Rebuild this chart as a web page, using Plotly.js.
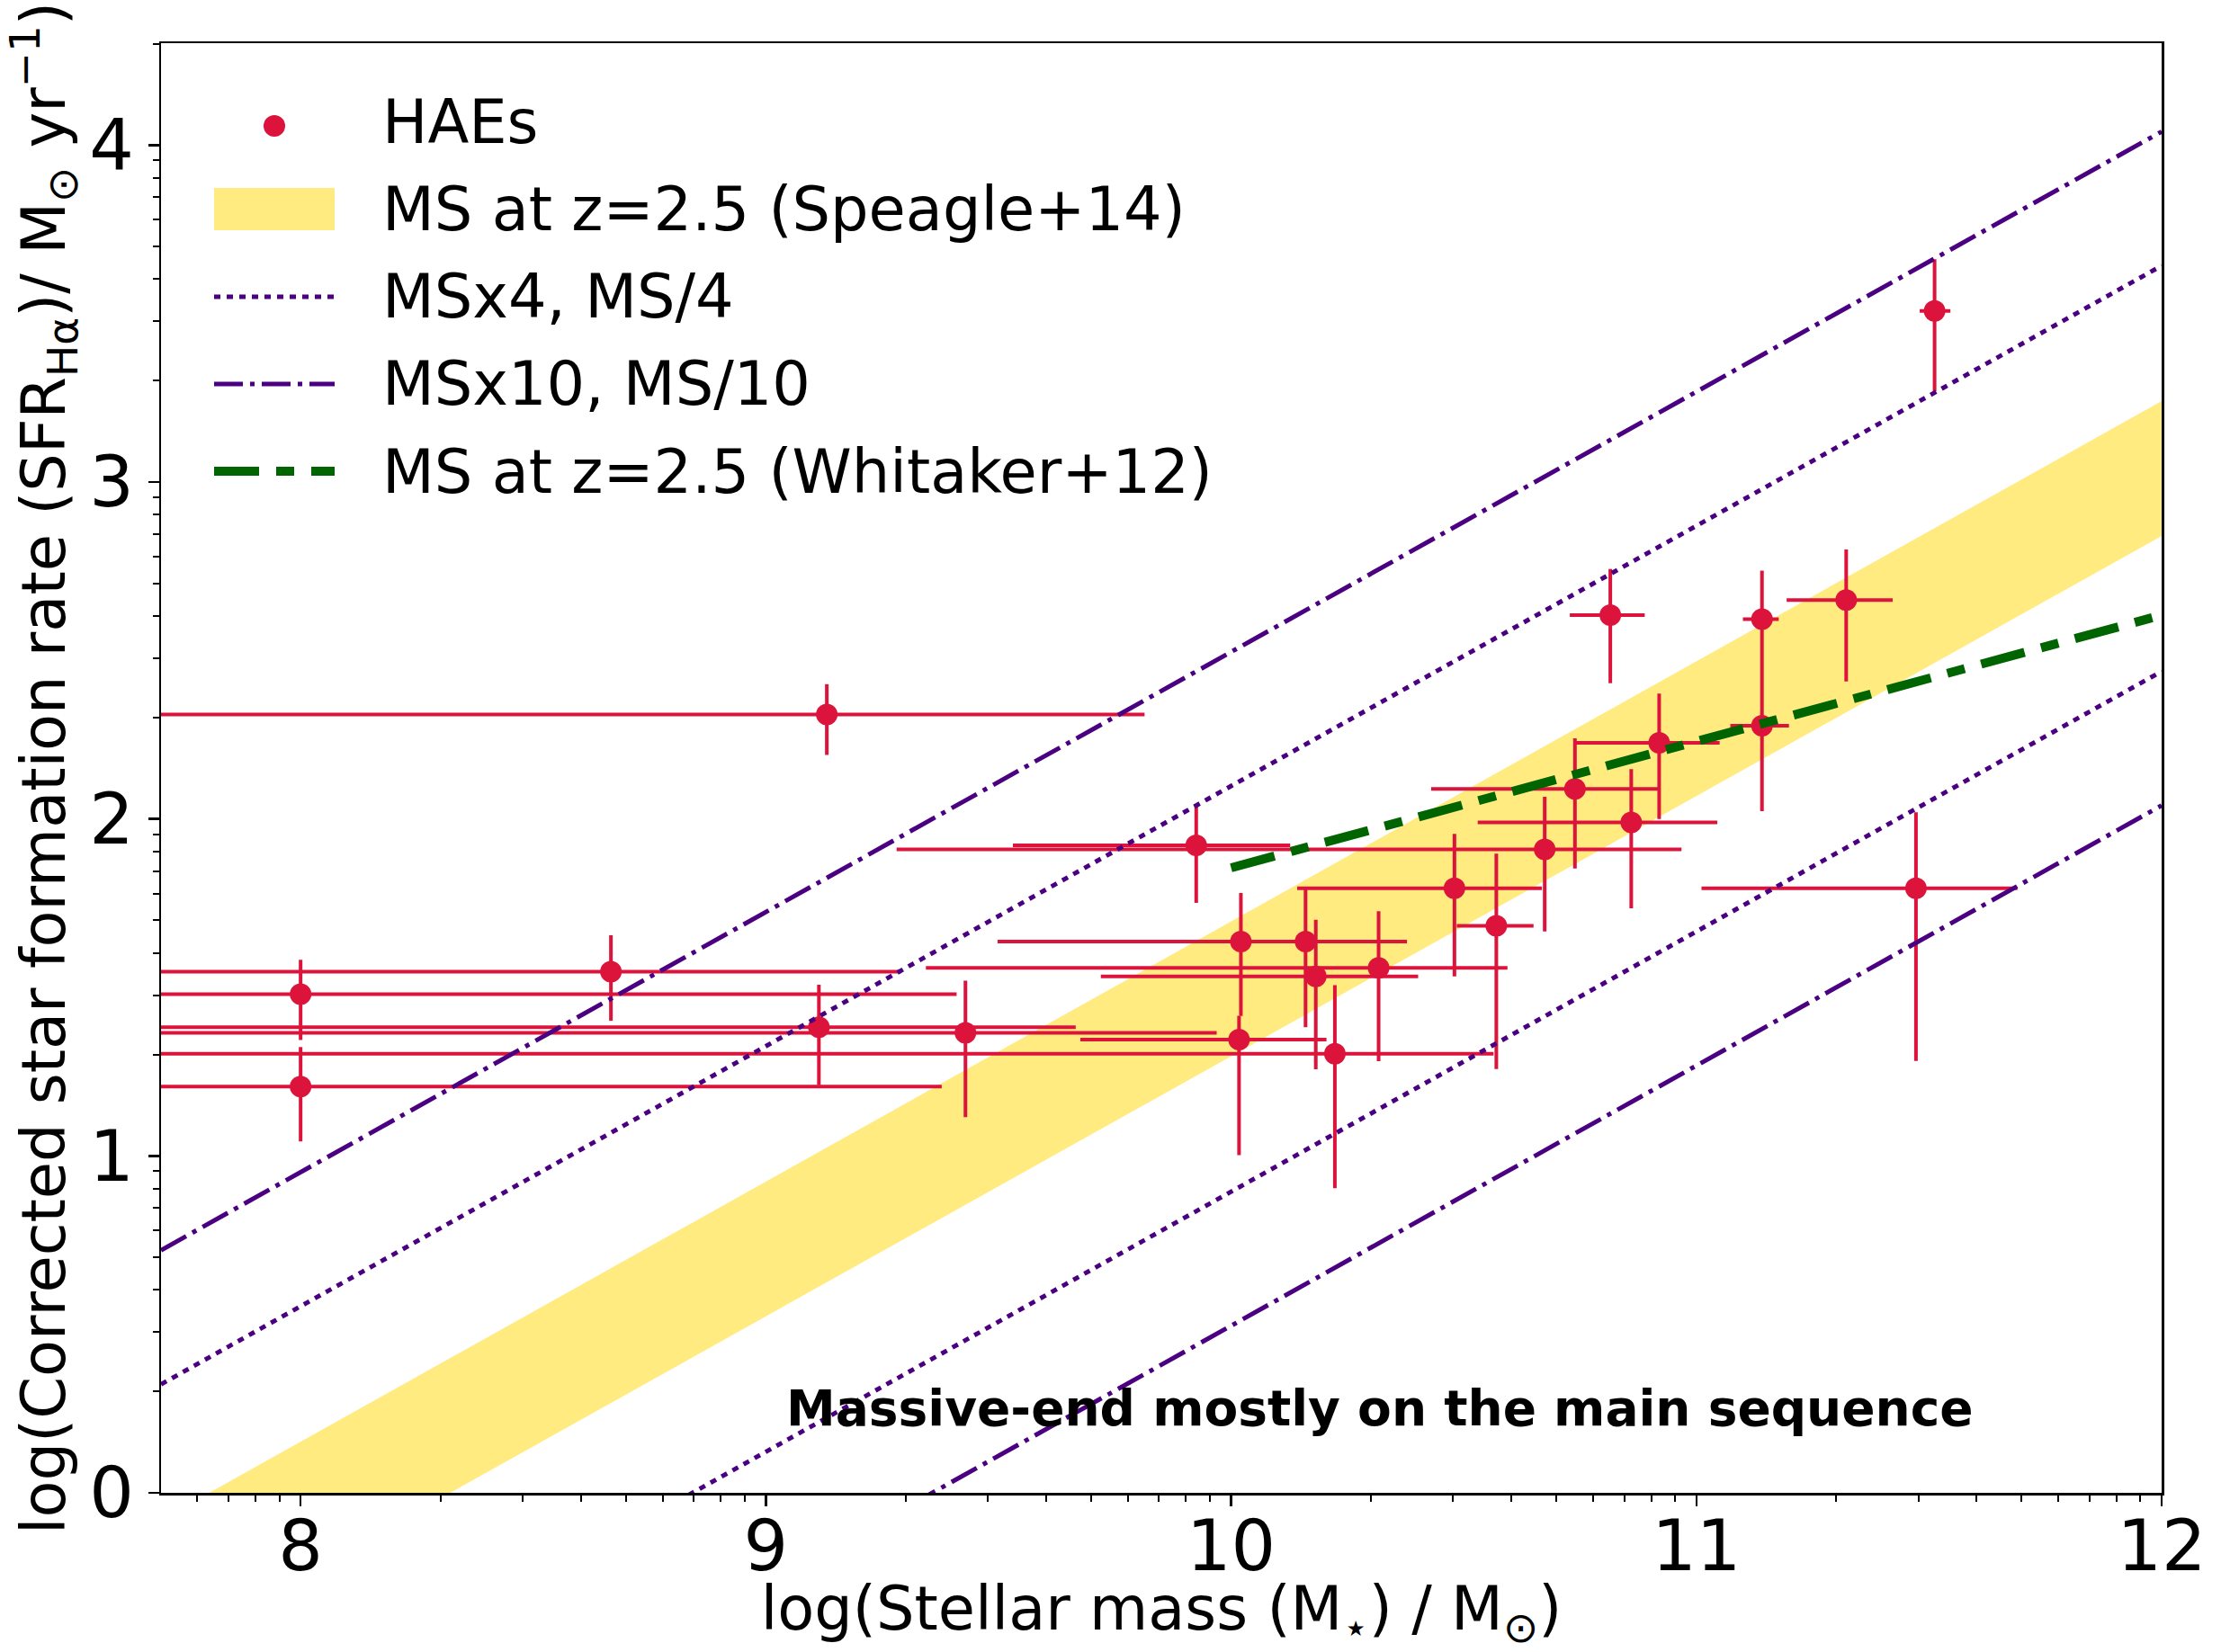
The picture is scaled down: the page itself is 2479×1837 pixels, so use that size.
<!DOCTYPE html>
<html>
<head>
<meta charset="utf-8">
<script src="https://cdn.plot.ly/plotly-3.0.1.min.js"></script>
<style>
html,body{margin:0;padding:0;background:#ffffff;}
#chart{width:2479px;height:1837px;}
</style>
</head>
<body>
<div id="chart"></div>
<script>
// ---------------- data ----------------
// HAEs: log stellar mass, log SFR(Halpha) and error-bar bounds
const haeMass   = [8.000, 8.000, 8.667, 9.131, 9.114, 9.429, 9.925, 10.021, 10.017, 10.160, 10.182, 10.223, 10.317,
                   10.480, 10.570, 10.674, 10.739, 10.860, 10.920, 10.815, 11.141, 11.141, 11.322, 11.472, 11.512];
const haeSFR    = [1.480, 1.206, 1.547, 2.310, 1.382, 1.365, 1.922, 1.636, 1.345, 1.636, 1.533, 1.303, 1.558,
                   1.794, 1.683, 1.910, 2.089, 1.990, 2.226, 2.605, 2.593, 2.277, 2.650, 1.794, 3.508];
const haeMassLo = [7.50, 7.50, 7.50, 7.50, 7.50, 7.50, 9.531, 9.498, 9.676, 9.694, 9.720, 7.50, 9.344,
                   10.142, 10.485, 9.281, 10.430, 10.530, 10.740, 10.728, 11.100, 11.073, 11.194, 11.011, 11.480];
const haeMassHi = [9.410, 9.378, 9.290, 9.814, 9.666, 9.969, 10.127, 10.253, 10.205, 10.378, 10.402, 10.564, 10.594,
                   10.668, 10.650, 10.968, 10.920, 11.045, 11.050, 10.889, 11.177, 11.199, 11.422, 11.690, 11.546];
const haeSFRLo  = [1.344, 1.043, 1.401, 2.190, 1.210, 1.115, 1.751, 1.415, 1.002, 1.382, 1.257, 0.904, 1.281,
                   1.533, 1.258, 1.666, 1.853, 1.735, 2.000, 2.403, 2.450, 2.023, 2.408, 1.282, 3.269];
const haeSFRHi  = [1.582, 1.323, 1.655, 2.400, 1.508, 1.520, 2.044, 1.780, 1.416, 1.795, 1.701, 1.507, 1.726,
                   1.956, 1.897, 2.066, 2.239, 2.148, 2.372, 2.742, 2.737, 2.450, 2.800, 2.020, 3.661];

// Main sequence (Speagle+14, z=2.5): centre line end points and band half width
const msLineX   = [7.7, 12.0];
const msLineY   = [-0.280, 3.040];
const msBandHalf = 0.2;
const offsetX4  = 0.602;   // log10(4)
const offsetX10 = 1.0;     // log10(10)

// Whitaker+12 relation at z=2.5
const whitakerX = [10.0, 12.0];
const whitakerY = [1.855, 2.605];

// ticks
const xTickVals = [8, 9, 10, 11, 12];
const xTickText = ['8', '9', '10', '11', '12'];
const yTickVals = [0, 1, 2, 3, 4];
const yTickText = ['0', '1', '2', '3', '4'];

// ---------------- styling ----------------
const FONT = 'DejaVu Sans';
const RED = '#DC143C';
const PURPLE = '#4B0082';
const GREEN = '#006400';
const GOLD = 'rgba(255,215,0,0.5)';
const X_RANGE = [7.7, 12.0];
const Y_RANGE = [0, 4.3025];

function minorVals(lo, hi) {
  const out = [];
  for (let n = Math.floor(lo) - 1; n <= Math.ceil(hi); n++) {
    for (let k = 2; k <= 9; k++) {
      const v = n + Math.log10(k);
      if (v >= lo - 1e-9 && v <= hi + 1e-9) out.push(v);
    }
  }
  return out;
}

const shift = (arr, d) => arr.map(v => v + d);

const traces = [];
// yellow band
traces.push({
  x: msLineX.concat(msLineX.slice().reverse()),
  y: shift(msLineY, msBandHalf).concat(shift(msLineY, -msBandHalf).reverse()),
  mode: 'lines', fill: 'toself', fillcolor: GOLD,
  line: {width: 0, color: GOLD}, hoverinfo: 'skip', showlegend: false
});
// HAEs with error bars
traces.push({
  x: haeMass, y: haeSFR, mode: 'markers', type: 'scatter', showlegend: false,
  marker: {color: RED, size: 24, line: {width: 0}},
  error_x: {type: 'data', symmetric: false,
            array: haeMassHi.map((v, i) => v - haeMass[i]),
            arrayminus: haeMass.map((v, i) => v - haeMassLo[i]),
            color: RED, thickness: 4, width: 0},
  error_y: {type: 'data', symmetric: false,
            array: haeSFRHi.map((v, i) => v - haeSFR[i]),
            arrayminus: haeSFR.map((v, i) => v - haeSFRLo[i]),
            color: RED, thickness: 4, width: 0}
});
const DOT = '7px,7px';
const DASHDOT = '32px,8px,5px,8px';
const GREENDASH = '50px,19px,20px,19px';
[[offsetX4, DOT], [-offsetX4, DOT], [offsetX10, DASHDOT], [-offsetX10, DASHDOT]].forEach(([o, d]) => {
  traces.push({x: msLineX, y: shift(msLineY, o), mode: 'lines', showlegend: false,
               line: {color: PURPLE, width: 5, dash: d}, hoverinfo: 'skip'});
});
traces.push({x: whitakerX, y: whitakerY, mode: 'lines', showlegend: false,
             line: {color: GREEN, width: 10, dash: GREENDASH}, hoverinfo: 'skip'});

// ---------------- layout ----------------
const W = 2479, H = 1837;
const plotL = 179, plotR = 2403, plotT = 48, plotB = 1660;
const px = xf => (xf - plotL) / (plotR - plotL);
const py = yf => (plotB - yf) / (plotB - plotT);

// legend (drawn as shapes + text, sized like the reference)
const legSymL = 238, legSymR = 372, legTextX = 423;
const legendRows = [
  {label: 'HAEs', y: 136},
  {label: 'MS at z=2.5 (Speagle+14)', y: 232.6},
  {label: 'MSx4, MS/4', y: 330},
  {label: 'MSx10, MS/10', y: 427},
  {label: 'MS at z=2.5 (Whitaker+12)', y: 524.5}
];
const shapes = [
  {type: 'circle', xref: 'paper', yref: 'paper', x0: px(293), x1: px(317), y0: py(152), y1: py(128),
   fillcolor: RED, line: {width: 0}},
  {type: 'rect', xref: 'paper', yref: 'paper', x0: px(legSymL), x1: px(legSymR), y0: py(256), y1: py(209),
   fillcolor: GOLD, line: {width: 0}},
  {type: 'line', xref: 'paper', yref: 'paper', x0: px(legSymL), x1: px(legSymR), y0: py(330), y1: py(330),
   line: {color: PURPLE, width: 5, dash: DOT}},
  {type: 'line', xref: 'paper', yref: 'paper', x0: px(legSymL), x1: px(legSymR), y0: py(427), y1: py(427),
   line: {color: PURPLE, width: 5, dash: DASHDOT}},
  {type: 'line', xref: 'paper', yref: 'paper', x0: px(legSymL), x1: px(legSymR), y0: py(524), y1: py(524),
   line: {color: GREEN, width: 10, dash: GREENDASH}}
];
const annotations = legendRows.map(r => ({
  xref: 'paper', yref: 'paper', x: px(legTextX), y: py(r.y), xanchor: 'left', yanchor: 'middle',
  text: r.label, showarrow: false, font: {family: FONT, size: 67, color: '#000'}
}));
annotations.push({
  xref: 'x', yref: 'y', x: 10.32, y: 0.25, xanchor: 'center', yanchor: 'middle',
  text: '<b>Massive-end mostly on the main sequence</b>', showarrow: false,
  font: {family: FONT, size: 55, color: '#000'}
});

const axisCommon = {
  showgrid: false, zeroline: false, showline: true, linecolor: '#000', linewidth: 2.5, mirror: true,
  ticks: 'outside', ticklen: 12, tickwidth: 2.5, tickcolor: '#000',
  tickfont: {family: FONT, size: 78, color: '#000'}, tickmode: 'array'
};

const layout = {
  width: W, height: H,
  margin: {l: plotL, r: W - plotR, t: plotT, b: H - plotB, pad: 0},
  paper_bgcolor: '#fff', plot_bgcolor: '#fff',
  showlegend: false,
  xaxis: Object.assign({}, axisCommon, {
    range: X_RANGE, tickvals: xTickVals, ticktext: xTickText, ticklabelstandoff: -22,
    minor: {tickmode: 'array', tickvals: minorVals(X_RANGE[0], X_RANGE[1]), ticks: 'outside',
            ticklen: 7, tickwidth: 2, tickcolor: '#000', showgrid: false},
    title: {text: 'log(Stellar mass (M<sub>⋆</sub>) / M<sub>⊙</sub>)', standoff: 40,
            font: {family: FONT, size: 67, color: '#000'}}
  }),
  yaxis: Object.assign({}, axisCommon, {
    range: Y_RANGE, tickvals: yTickVals, ticktext: yTickText,
    minor: {tickmode: 'array', tickvals: minorVals(Y_RANGE[0], Y_RANGE[1]), ticks: 'outside',
            ticklen: 7, tickwidth: 2, tickcolor: '#000', showgrid: false},
    title: {text: 'log(Corrected star formation rate (SFR<sub>Hα</sub>)/ M<sub>⊙</sub> yr<sup>−1</sup>)',
            standoff: 16, font: {family: FONT, size: 67, color: '#000'}}
  }),
  shapes: shapes,
  annotations: annotations
};

Plotly.newPlot('chart', traces, layout, {staticPlot: true, displayModeBar: false});
</script>
</body>
</html>
